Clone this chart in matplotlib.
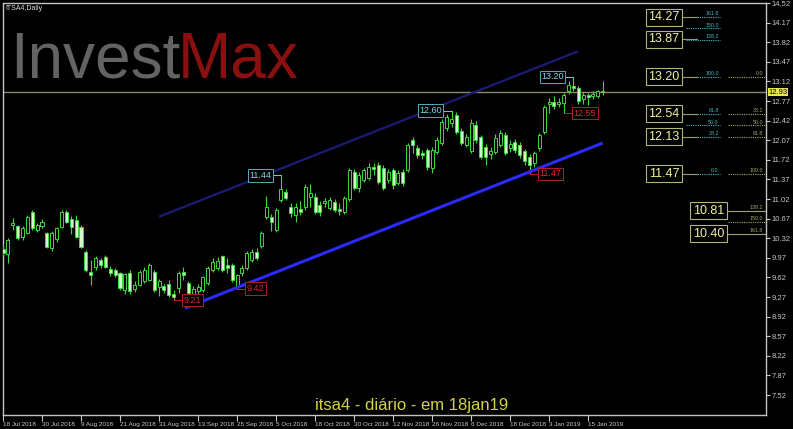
import matplotlib
matplotlib.use("Agg")
import matplotlib.pyplot as plt
import matplotlib.transforms as mtransforms
from matplotlib import font_manager

# ITSA4 daily candles, 18 Jul 2018 .. 18 Jan 2019
opens = [10.12, 10.03, 10.56, 10.53, 10.34, 10.41, 10.79, 10.47, 10.54, 10.41,
         10.15, 10.31, 10.52, 10.78, 10.66, 10.65, 10.52, 10.07, 9.72, 9.81,
         9.93, 9.98, 9.77, 9.75, 9.70, 9.40, 9.70, 9.41, 9.49, 9.55,
         9.58, 9.72, 9.45, 9.47, 9.51, 9.33, 9.43, 9.72, 9.52, 9.33,
         9.38, 9.40, 9.52, 9.75, 9.79, 10.00, 9.84, 9.84, 9.45, 9.70,
         9.79, 9.93, 10.08, 10.18, 10.70, 10.70, 10.47, 11.00, 11.15, 10.88,
         10.73, 10.85, 10.88, 11.06, 11.06, 10.92, 10.95, 10.86, 10.97, 10.84,
         10.79, 11.02, 11.50, 11.22, 11.36, 11.40, 11.60, 11.62, 11.58, 11.36,
         11.54, 11.31, 11.50, 11.54, 12.08, 11.93, 11.85, 11.90, 11.57, 11.86,
         12.02, 12.29, 12.38, 12.52, 12.24, 11.98, 11.88, 12.34, 12.13, 11.95,
         11.82, 11.86, 11.99, 12.16, 11.93, 12.04, 11.98, 11.87, 11.77, 11.66,
         11.93, 12.22, 12.72, 12.76, 12.72, 12.74, 12.94, 13.03, 13.00, 12.80,
         12.88, 12.86, 12.86, 12.95]
highs = [10.22, 10.32, 10.68, 10.56, 10.54, 10.74, 10.82, 10.60, 10.66, 10.43,
         10.45, 10.52, 10.82, 10.83, 10.72, 10.74, 10.56, 10.11, 9.93, 10.00,
         9.97, 10.02, 9.83, 9.79, 9.72, 9.70, 9.75, 9.55, 9.75, 9.80,
         9.88, 9.76, 9.60, 9.50, 9.58, 9.40, 9.73, 9.80, 9.56, 9.46,
         9.50, 9.65, 9.83, 9.97, 9.99, 10.02, 9.97, 9.88, 9.68, 9.84,
         10.10, 10.13, 10.14, 10.45, 11.07, 10.76, 10.86, 11.44, 11.20, 10.95,
         10.95, 10.98, 11.29, 11.29, 11.13, 10.98, 11.04, 11.06, 11.02, 10.95,
         11.08, 11.58, 11.56, 11.50, 11.58, 11.66, 11.66, 11.68, 11.62, 11.56,
         11.58, 11.54, 11.55, 12.02, 12.13, 11.98, 11.90, 11.93, 11.95, 12.12,
         12.45, 12.54, 12.60, 12.58, 12.28, 12.18, 12.45, 12.42, 12.17, 12.00,
         11.95, 12.18, 12.25, 12.22, 12.07, 12.09, 12.04, 11.92, 11.82, 11.88,
         12.20, 12.70, 12.82, 12.86, 12.82, 12.92, 13.12, 13.20, 13.03, 12.93,
         12.92, 12.94, 12.97, 13.12]
lows = [10.00, 9.87, 10.47, 10.29, 10.29, 10.39, 10.47, 10.43, 10.50, 10.15,
        10.09, 10.26, 10.50, 10.59, 10.40, 10.32, 10.15, 9.72, 9.48, 9.75,
        9.79, 9.79, 9.65, 9.63, 9.39, 9.33, 9.33, 9.36, 9.47, 9.52,
        9.55, 9.36, 9.29, 9.34, 9.27, 9.21, 9.35, 9.58, 9.27, 9.25,
        9.33, 9.36, 9.49, 9.72, 9.75, 9.72, 9.70, 9.53, 9.42, 9.64,
        9.75, 9.90, 9.93, 10.15, 10.66, 10.45, 10.43, 10.96, 11.00, 10.70,
        10.61, 10.73, 10.82, 10.88, 10.75, 10.71, 10.88, 10.82, 10.79, 10.73,
        10.75, 10.98, 11.18, 11.15, 11.32, 11.36, 11.45, 11.28, 11.18, 11.30,
        11.20, 11.27, 11.26, 11.50, 11.84, 11.76, 11.74, 11.53, 11.48, 11.82,
        11.98, 12.24, 12.30, 12.18, 11.98, 11.95, 11.84, 12.02, 11.73, 11.63,
        11.74, 11.82, 11.95, 11.80, 11.86, 11.85, 11.76, 11.63, 11.47, 11.60,
        11.88, 12.18, 12.56, 12.62, 12.66, 12.55, 12.90, 12.95, 12.72, 12.72,
        12.70, 12.80, 12.82, 12.88]
closes = [10.05, 10.29, 10.59, 10.32, 10.50, 10.70, 10.50, 10.55, 10.61, 10.17,
          10.41, 10.50, 10.79, 10.61, 10.52, 10.34, 10.16, 9.75, 9.67, 9.97,
          9.85, 9.81, 9.70, 9.67, 9.43, 9.68, 9.38, 9.48, 9.72, 9.75,
          9.84, 9.40, 9.55, 9.40, 9.30, 9.27, 9.70, 9.67, 9.34, 9.41,
          9.45, 9.63, 9.79, 9.90, 9.92, 9.76, 9.79, 9.57, 9.66, 9.78,
          10.06, 10.07, 9.97, 10.41, 10.88, 10.61, 10.82, 11.20, 11.04, 10.77,
          10.88, 10.79, 11.24, 11.13, 10.79, 10.79, 10.99, 11.00, 10.82, 10.80,
          11.04, 11.54, 11.22, 11.45, 11.54, 11.60, 11.55, 11.33, 11.22, 11.50,
          11.27, 11.48, 11.30, 11.98, 11.98, 11.81, 11.80, 11.59, 11.90, 12.07,
          12.40, 12.48, 12.45, 12.22, 12.02, 12.12, 12.38, 12.07, 11.77, 11.77,
          11.88, 12.11, 12.20, 11.84, 12.00, 11.90, 11.80, 11.70, 11.63, 11.84,
          12.16, 12.66, 12.76, 12.68, 12.76, 12.88, 13.06, 13.00, 12.77, 12.87,
          12.85, 12.89, 12.95, 12.93]

date_labels = ["18 Jul 2018", "30 Jul 2018", "9 Aug 2018", "21 Aug 2018",
               "31 Aug 2018", "13 Sep 2018", "25 Sep 2018", "5 Oct 2018",
               "18 Oct 2018", "30 Oct 2018", "12 Nov 2018", "26 Nov 2018",
               "6 Dec 2018", "18 Dec 2018", "3 Jan 2019", "15 Jan 2019"]
price_ticks = [7.52, 7.87, 8.22, 8.57, 8.92, 9.27, 9.62, 9.97, 10.32, 10.67, 11.02,
               11.37, 11.72, 12.07, 12.42, 12.77, 13.12, 13.47, 13.82, 14.17, 14.52]
last_price = 12.93

# swing highs / lows marked on the chart
high_bars = [57, 92, 117]
high_vals = [11.44, 12.60, 13.20]
low_bars = [35, 48, 108, 115]
low_vals = [9.21, 9.42, 11.47, 12.55]

# trend line and its parallel channel (bar index, price)
trend_x = [37.3, 123.0]
trend_y = [9.07, 12.02]
chan_x = [32.2, 117.7]
chan_y = [10.71, 13.65]

# two fibonacci tools: 11.47 -> 13.20 and 13.20 -> 11.47
fib_pcts = [0.0, 38.2, 50.0, 61.8, 100.0, 138.2, 150.0, 161.8]
fib_a = (11.47, 13.20)
fib_b = (13.20, 11.47)
fib_a_boxes = [14.27, 13.87, 13.20, 12.54, 12.13, 11.47]
fib_b_boxes = [10.81, 10.40]

plt.rcParams["font.family"] = "Liberation Sans"
names = {f.name for f in font_manager.fontManager.ttflist}
wm_font = "Liberation Sans Narrow" if "Liberation Sans Narrow" in names else "Liberation Sans"
wm_size = 52 if wm_font == "Liberation Sans Narrow" else 46

W, H = 793, 429
fig = plt.figure(figsize=(W / 100, H / 100), dpi=100, facecolor="black")
ax = fig.add_axes([3 / W, 1 - 415 / H, 763 / W, 412 / H])
ax.set_facecolor("black")
ax.set_xlim(0, 156.5)
ax.set_ylim(7.163, 14.52)

# watermark
fig.text(10 / W, 1 - 78 / H, "Invest", color="#636363", fontsize=wm_size,
         family=wm_font, va="baseline", ha="left")
fig.text(178 / W, 1 - 78 / H, "Max", color="#8a1010", fontsize=wm_size,
         family=wm_font, va="baseline", ha="left")

# candles
idx = list(range(len(opens)))
edge = "#3fd63f"
ax.vlines(idx, lows, highs, color=edge, lw=0.8, zorder=3)
bottoms = [min(o, c) for o, c in zip(opens, closes)]
heights = [max(abs(c - o), 0.012) for o, c in zip(opens, closes)]
fills = ["black" if c >= o else "#d6f5cc" for o, c in zip(opens, closes)]
ax.bar(idx, heights, bottom=bottoms, width=0.62, color=fills, edgecolor=edge,
       linewidth=0.7, zorder=4)

# current price line
ax.axhline(last_price, color="#8e8a68", lw=1, zorder=2)

# trend lines
ax.plot(trend_x, trend_y, color="#2b2bff", lw=2.2, zorder=5, solid_capstyle="butt")
ax.plot(chan_x, chan_y, color="#1a1a70", lw=1.7, zorder=2)

# swing labels
for b, v in zip(high_bars, high_vals):
    ax.plot([b, b - 2], [v, v], color="#7cc8e0", lw=0.7, zorder=5)
    ax.text(b - 2, v, f"{v:.2f}", color="#8fd4ea", fontsize=6.5, ha="right",
            va="center", zorder=6,
            bbox=dict(boxstyle="square,pad=0.18", fc="black", ec="#5aa6c0", lw=0.7))
for b, v in zip(low_bars, low_vals):
    ax.plot([b, b + 2], [v, v], color="#c02020", lw=0.7, zorder=5)
    ax.text(b + 2, v, f"{v:.2f}", color="#d42a2a", fontsize=6.5, ha="left",
            va="center", zorder=6,
            bbox=dict(boxstyle="square,pad=0.18", fc="black", ec="#b02020", lw=0.7))

# fibonacci levels
cyan = "#4cb8c8"
khaki = "#a8a86c"
for p in fib_pcts:
    lv = fib_a[0] + p / 100 * (fib_a[1] - fib_a[0])
    ax.plot([140.1, 147.1], [lv, lv], color=cyan, lw=0.8, ls=(0, (1, 1)), zorder=3)
    ax.text(146.8, lv + 0.015, f"{p:.1f}", color=cyan, fontsize=3.8,
            ha="right", va="bottom", zorder=6)
    lv = fib_b[0] + p / 100 * (fib_b[1] - fib_b[0])
    ax.plot([148.7, 156.5], [lv, lv], color=khaki, lw=0.8, ls=(0, (1, 1)), zorder=3)
    ax.text(155.9, lv + 0.015, f"{p:.1f}", color=khaki, fontsize=3.8,
            ha="right", va="bottom", zorder=6)

box_style = dict(boxstyle="square,pad=0.2", fc="black", ec="#b4b474", lw=0.8)
for v in fib_a_boxes:
    ax.plot([139.1, 142.4], [v, v], color="#9a9a78", lw=0.8, zorder=3)
    ax.text(135.6, v, f"{v:.2f}", color="#f2f29c", fontsize=9, ha="center",
            va="center", zorder=6, bbox=box_style)
for v in fib_b_boxes:
    ax.plot([148.1, 156.5], [v, v], color="#9a9a78", lw=0.8, zorder=3)
    ax.text(144.7, v, f"{v:.2f}", color="#f2f29c", fontsize=9, ha="center",
            va="center", zorder=6, bbox=box_style)

# axes styling
for s in ax.spines.values():
    s.set_color("#c4c4c4")
    s.set_linewidth(1)
ax.yaxis.tick_right()
ax.set_yticks(price_ticks, [f"{t:.2f}" for t in price_ticks])
ax.set_xticks(list(range(0, 8 * len(date_labels), 8)), date_labels, ha="left")
ax.tick_params(axis="y", colors="#c8c8c8", labelsize=5.5, length=3, pad=1)
ax.tick_params(axis="x", colors="#c8c8c8", labelsize=4.6, length=4, pad=1)

ax.text(1.003, last_price, f"{last_price:.2f}", fontsize=5.5, color="black",
        ha="left", va="center",
        transform=mtransforms.blended_transform_factory(ax.transAxes, ax.transData),
        bbox=dict(boxstyle="square,pad=0.1", fc="#e8e84e", ec="none"), clip_on=False)

ax.text(0.003, 0.995, "ITSA4,Daily", transform=ax.transAxes, color="#e0e0e0",
        fontsize=5, ha="left", va="top")

fig.text(315 / W, 1 - 410 / H, "itsa4 - diário - em 18jan19", color="#d4d43c",
         fontsize=12, ha="left", va="baseline")

fig.savefig("out.png", dpi=100, facecolor="black")
